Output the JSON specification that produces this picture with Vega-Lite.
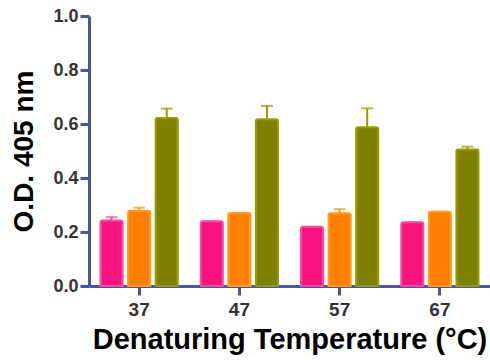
{
  "$schema": "https://vega.github.io/schema/vega-lite/v6.json",
  "width": 401,
  "height": 270,
  "autosize": "none",
  "padding": {"left": 89, "top": 16, "right": 0, "bottom": 74},
  "background": "white",
  "config": {"view": {"stroke": null}, "font": "Liberation Sans"},
  "data": {"values": [
    {"temp": "37", "group": "A", "value": 0.243, "upper": 0.255},
    {"temp": "37", "group": "B", "value": 0.279, "upper": 0.290},
    {"temp": "37", "group": "C", "value": 0.622, "upper": 0.657},
    {"temp": "47", "group": "A", "value": 0.240, "upper": 0.240},
    {"temp": "47", "group": "B", "value": 0.270, "upper": 0.270},
    {"temp": "47", "group": "C", "value": 0.618, "upper": 0.667},
    {"temp": "57", "group": "A", "value": 0.219, "upper": 0.219},
    {"temp": "57", "group": "B", "value": 0.269, "upper": 0.285},
    {"temp": "57", "group": "C", "value": 0.588, "upper": 0.658},
    {"temp": "67", "group": "A", "value": 0.236, "upper": 0.236},
    {"temp": "67", "group": "B", "value": 0.275, "upper": 0.275},
    {"temp": "67", "group": "C", "value": 0.506, "upper": 0.516}
  ]},
  "encoding": {
    "x": {"field": "temp", "type": "nominal", "sort": null,
      "scale": {"paddingInner": 0.23, "paddingOuter": 0.115},
      "axis": {"title": "Denaturing Temperature (°C)", "labelAngle": 0,
        "domainColor": "#4A55A2", "domainWidth": 3, "tickColor": "#4A55A2", "tickWidth": 3, "tickSize": 9,
        "labelFont": "Liberation Sans", "labelFontSize": 19, "labelFontWeight": "bold", "labelColor": "#333333", "labelPadding": 5,
        "titleFont": "Liberation Sans", "titleFontSize": 29, "titleFontWeight": "bold", "titleColor": "#000000", "titlePadding": 6}},
    "xOffset": {"field": "group", "type": "nominal", "scale": {"paddingInner": 0.2, "paddingOuter": 0}}
  },
  "layer": [
    {
      "mark": {"type": "rule", "strokeWidth": 2},
      "encoding": {
        "y": {"field": "value", "type": "quantitative"},
        "y2": {"field": "upper"},
        "color": {"field": "group", "type": "nominal", "legend": null,
          "scale": {"domain": ["A", "B", "C"], "range": ["#F64A9E", "#FF9A1A", "#999900"]}}
      }
    },
    {
      "mark": {"type": "tick", "orient": "horizontal", "size": 12, "thickness": 2},
      "encoding": {
        "y": {"field": "upper", "type": "quantitative"},
        "color": {"field": "group", "type": "nominal", "legend": null,
          "scale": {"domain": ["A", "B", "C"], "range": ["#F64A9E", "#FF9A1A", "#999900"]}}
      }
    },
    {
      "mark": {"type": "bar", "strokeWidth": 2, "cornerRadiusTopLeft": 2, "cornerRadiusTopRight": 2},
      "encoding": {
        "y": {"field": "value", "type": "quantitative",
          "scale": {"domain": [0, 1], "nice": false},
          "axis": {"title": "O.D. 405 nm", "values": [0, 0.2, 0.4, 0.6, 0.8, 1.0], "format": ".1f", "grid": false,
            "domainColor": "#4A55A2", "domainWidth": 3, "tickColor": "#4A55A2", "tickWidth": 3, "tickSize": 9,
            "labelFont": "Liberation Sans", "labelFontSize": 18, "labelFontWeight": "bold", "labelColor": "#333333", "labelPadding": 2,
            "titleFont": "Liberation Sans", "titleFontSize": 28, "titleFontWeight": "bold", "titleColor": "#000000", "titlePadding": 14}},
        "fill": {"field": "group", "type": "nominal", "legend": null,
          "scale": {"domain": ["A", "B", "C"], "range": ["#F7147F", "#FF8000", "#808000"]}},
        "stroke": {"field": "group", "type": "nominal", "legend": null,
          "scale": {"domain": ["A", "B", "C"], "range": ["#F64A9E", "#FF9A1A", "#999900"]}}
      }
    }
  ]
}
